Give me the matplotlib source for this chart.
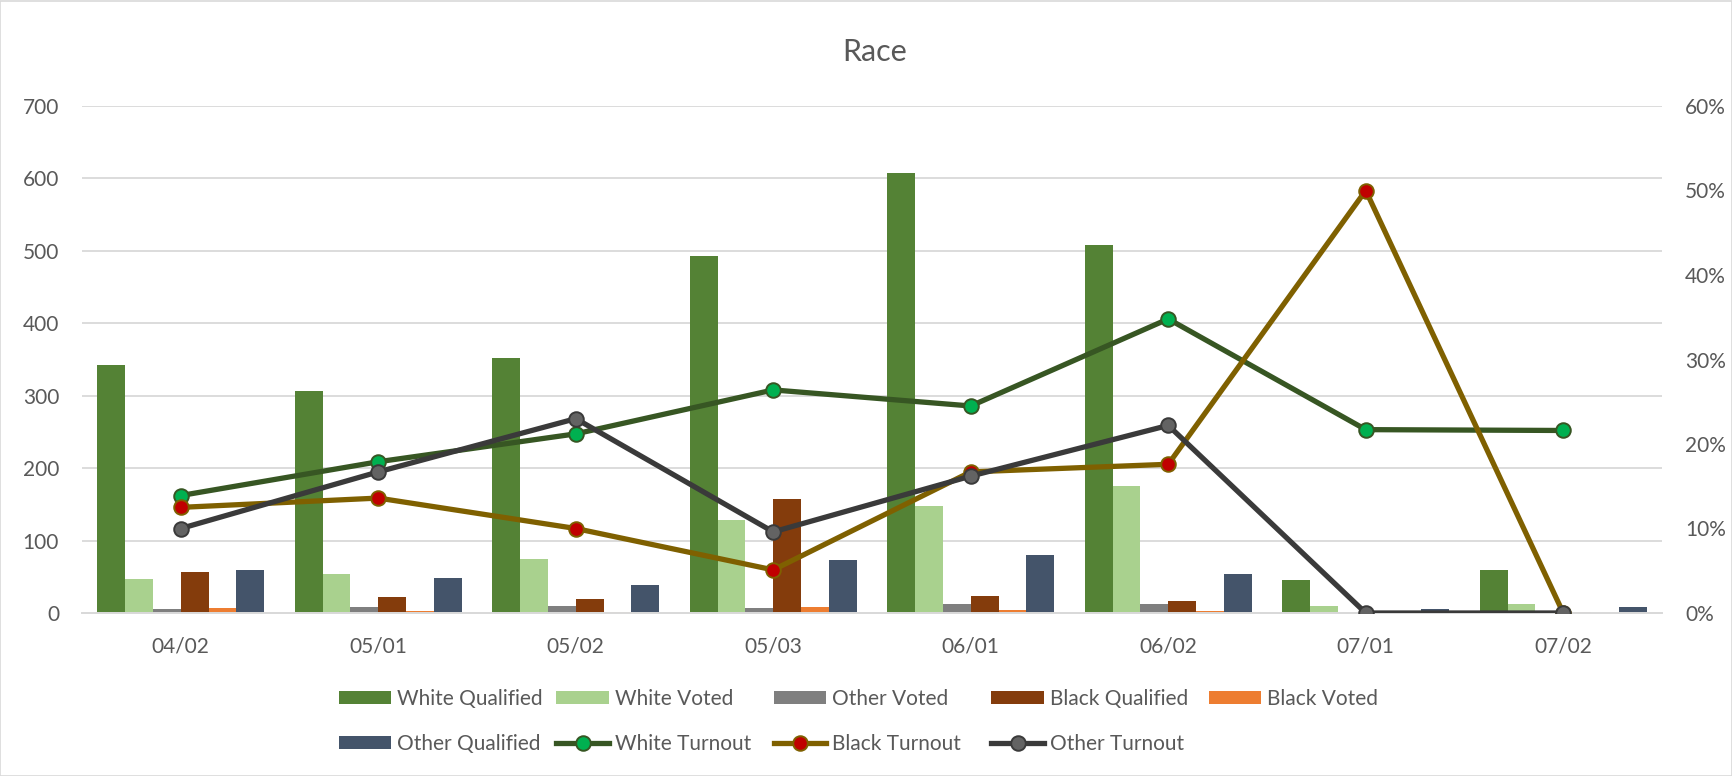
import matplotlib
matplotlib.use("Agg")
import matplotlib.pyplot as plt
import numpy as np
from matplotlib.patches import Patch, Rectangle
from matplotlib.lines import Line2D
from matplotlib.ticker import FuncFormatter

plt.rcParams['font.family'] = ['Lato', 'DejaVu Sans']

categories = ['04/02', '05/01', '05/02', '05/03', '06/01', '06/02', '07/01', '07/02']
white_qualified = [343, 306, 352, 493, 607, 508, 46, 60]
white_voted = [47, 54, 75, 129, 148, 176, 10, 13]
other_voted = [6, 8, 9, 7, 13, 12, 0, 0]
black_qualified = [56, 22, 20, 158, 24, 17, 2, 2]
black_voted = [7, 3, 2, 8, 4, 3, 1, 0]
other_qualified = [60, 48, 39, 73, 80, 54, 6, 8]
white_turnout = [0.139, 0.179, 0.212, 0.264, 0.245, 0.348, 0.217, 0.216]
black_turnout = [0.125, 0.136, 0.100, 0.051, 0.167, 0.176, 0.500, 0.0]
other_turnout = [0.100, 0.167, 0.230, 0.096, 0.162, 0.222, 0.0, 0.0]

bar_series = [
    ('White Qualified', white_qualified, '#548235'),
    ('White Voted', white_voted, '#A9D18E'),
    ('Other Voted', other_voted, '#7F7F7F'),
    ('Black Qualified', black_qualified, '#843C0C'),
    ('Black Voted', black_voted, '#ED7D31'),
    ('Other Qualified', other_qualified, '#44546A'),
]
line_series = [
    ('White Turnout', white_turnout, '#375623', '#00B050'),
    ('Black Turnout', black_turnout, '#7F6000', '#C00000'),
    ('Other Turnout', other_turnout, '#3A3A3A', '#636363'),
]

W, H = 1733, 776
fig = plt.figure(figsize=(W / 100, H / 100), dpi=100)
left, right, top, bottom = 82, 1662, 106, 613
ax = fig.add_axes([left / W, 1 - bottom / H, (right - left) / W, (bottom - top) / H])
ax2 = ax.twinx()

text_color = '#595959'
grid_color = '#D9D9D9'
fs = 15

x = np.arange(len(categories))
n = len(bar_series)
group = 0.845
bw = group / n
handles = {}
for i, (name, vals, col) in enumerate(bar_series):
    offs = -group / 2 + bw * (i + 0.5)
    ax.bar(x + offs, vals, width=bw, color=col, edgecolor='none', zorder=2)
    handles[name] = Patch(facecolor=col, edgecolor='none')

lw, ms, mew = 3.8, 10.5, 1.4
for name, vals, lc, mc in line_series:
    ax2.plot(x, vals, color=lc, lw=lw, marker='o', markersize=ms,
             markerfacecolor=mc, markeredgecolor=lc, markeredgewidth=mew,
             zorder=5, solid_capstyle='round', solid_joinstyle='round')
    handles[name] = Line2D([], [], color=lc, lw=lw, marker='o', markersize=ms,
                           markerfacecolor=mc, markeredgecolor=lc, markeredgewidth=mew)

ax.set_xlim(-0.5, len(categories) - 0.5)
ax.set_ylim(0, 700)
ax.set_yticks(np.arange(0, 701, 100))
ax2.set_ylim(0, 0.6)
ax2.set_yticks(np.arange(0, 0.61, 0.1))
ax2.yaxis.set_major_formatter(FuncFormatter(lambda v, p: f'{v*100:.0f}%'))

ax.set_xticks(x)
ax.set_xticklabels(categories)
ax.grid(axis='y', color=grid_color, lw=1.3, zorder=0)
ax.set_axisbelow(True)
for a in (ax, ax2):
    for s in ('top', 'left', 'right'):
        a.spines[s].set_visible(False)
    a.spines['bottom'].set_color(grid_color)
    a.spines['bottom'].set_linewidth(1.3)
    a.tick_params(length=0, labelsize=fs, labelcolor=text_color)
ax.tick_params(axis='x', pad=17)
ax.tick_params(axis='y', pad=16.5)
ax2.tick_params(axis='y', pad=16.5)
ax2.set_zorder(ax.get_zorder() + 1)
ax2.patch.set_visible(False)

fig.text(874.5 / W, 1 - 52 / H, 'Race', ha='center', va='center', fontsize=22, color=text_color)

# legend laid out in a 5-column grid
rows = [['White Qualified', 'White Voted', 'Other Voted', 'Black Qualified', 'Black Voted'],
        ['Other Qualified', 'White Turnout', 'Black Turnout', 'Other Turnout']]
col_x0, col_dx = 339, 217.5
row_y = [699, 744]
for r, names in enumerate(rows):
    for c, nm in enumerate(names):
        fig.legend(handles=[handles[nm]], labels=[nm], loc='center left',
                   bbox_to_anchor=((col_x0 + c * col_dx) / W, 1 - row_y[r] / H),
                   frameon=False, fontsize=fs, handlelength=2.5, handleheight=0.62,
                   handletextpad=0.3, borderpad=0, borderaxespad=0,
                   labelcolor=text_color)

fig.patches.append(Rectangle((0.5 / W, 0.5 / H), 1 - 1.5 / W, 1 - 1.5 / H,
                             transform=fig.transFigure, fill=False,
                             edgecolor=grid_color, lw=1.2))

fig.savefig('out.png', dpi=100)
